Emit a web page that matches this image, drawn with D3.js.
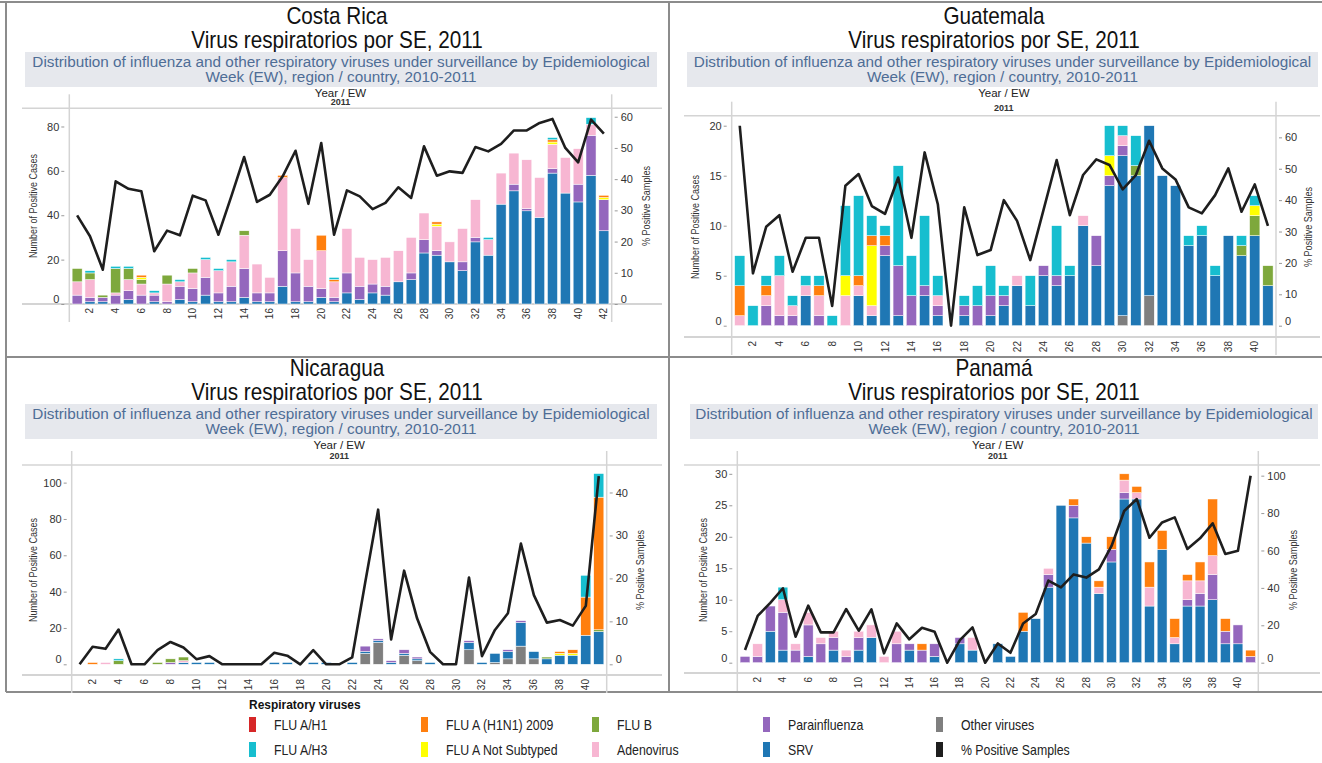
<!DOCTYPE html>
<html>
<head>
<meta charset="utf-8">
<script src="https://cdn.jsdelivr.net/npm/d3@7"></script>
<style>
  body { margin: 0; background: #fff; }
  svg { display: block; font-family: "Liberation Sans", Arial, sans-serif; }
</style>
</head>
<body>
<svg id="chart" width="1322" height="763"></svg>
<script>
// stacking order, bottom to top
const seriesKeys = ["other", "srv", "para", "adeno", "flub", "notsub", "h1n1", "h3", "h1"];
const seriesLabels = ["Other viruses", "SRV", "Parainfluenza", "Adenovirus", "FLU B",
  "FLU A Not Subtyped", "FLU A (H1N1) 2009", "FLU A/H3", "FLU A/H1"];
const seriesColors = ["#7f7f7f", "#1f77b4", "#9467bd", "#f7b6d2", "#7ea83c",
  "#ffff00", "#ff7f0e", "#17becf", "#d62728"];

// ---- Costa Rica, EW 1-42
const crSRV = [0,1,1,0,2,0,1,0,2,1, 4,1,1,3,1,1,8,1,1,3, 1,5,2,5,4,10,11,23,22,19, 15,28,22,45,51,42,39,59,50,46, 58,33];
const crPara = [4,2,2,4,4,4,3,1,6,6, 8,4,7,13,4,4,16,13,7,4, 2,9,6,4,4,0,3,6,2,0, 4,2,0,0,3,1,0,2,0,8, 18,14];
const crAdeno = [6,8,0,1,5,5,1,8,2,7, 8,10,11,15,13,7,33,20,12,17, 7,20,13,11,13,14,16,12,11,9, 15,17,7,14,14,22,18,11,16,16, 5,0];
const crFluB = [6,3,1,11,5,2,0,4,0,2, 0,0,0,2,0,0,0,0,0,0, 0,0,0,0,0,0,0,0,0,0, 0,0,0,0,0,0,0,0,0,0, 0,0];
const crNotSub = [0,0,0,0,0,1,0,0,0,0, 0,0,0,0,0,0,0,0,0,0, 0,0,0,0,0,0,0,0,1,0, 0,0,0,0,0,0,0,1,0,0, 0,1];
const crH1N1 = [0,0,0,0,0,1,0,0,0,0, 0,0,0,0,0,0,1,0,0,7, 1,0,0,0,0,0,0,0,1,0, 0,0,0,0,0,0,0,1,0,0, 0,1];
const crH3 = [0,1,0,1,1,0,1,0,1,0, 1,1,1,0,0,0,0,0,0,0, 1,0,0,0,0,0,0,0,0,0, 0,0,1,0,0,0,0,1,0,0, 3,0];
const crPct = [28.4,21.7,11.0,39.3,36.9,36.1,16.9,23.5,22.0,34.7, 33.2,22.2,34.5,47.1,32.7,35.0,40.9,49.1,32.1,51.6,
  22.2,36.4,34.5,30.4,32.4,37.4,34.0,50.5,41.1,42.5, 42.0,50.3,48.9,51.3,55.6,55.6,58.0,59.3,50.0,45.4, 59.1,54.6];

// ---- Guatemala, EW 1-41
const gtOther = [0,0,0,0,0,0,0,0,0,0, 0,0,0,0,0,0,0,0,0,0, 0,0,0,0,0,0,0,0,0,1, 0,3,0,0,0,0,0,0,0,0, 0];
const gtSRV = [0,0,0,0,0,3,0,0,0,3, 1,7,1,0,3,1,0,1,0,1, 2,4,2,5,4,5,10,6,14,16, 15,17,15,14,8,9,5,9,7,9, 4];
const gtPara = [0,0,2,1,1,0,1,0,0,0, 0,1,5,3,1,1,0,1,2,2, 1,0,0,1,1,0,0,3,1,1, 0,0,0,0,0,0,0,0,0,0, 0];
const gtAdeno = [1,0,1,4,1,1,2,0,3,1, 1,0,0,0,0,1,0,0,0,0, 0,1,0,0,0,0,1,0,0,1, 0,0,0,0,0,0,0,0,0,0, 0];
const gtFluB = [0,0,0,0,0,0,0,0,0,0, 0,0,0,0,0,0,0,0,0,0, 0,0,0,0,0,0,0,0,0,0, 1,0,0,0,0,0,0,0,1,2, 2];
const gtNotSub = [0,0,0,0,0,0,0,0,2,0, 6,0,0,0,0,0,0,0,0,0, 0,0,0,0,0,0,0,0,2,0, 0,0,0,0,0,0,0,0,0,1, 0];
const gtH1N1 = [3,0,1,0,0,0,1,0,0,1, 1,1,0,0,0,0,0,0,0,0, 0,0,0,0,0,0,0,0,0,0, 0,0,0,0,0,0,0,0,0,0, 0];
const gtH3 = [3,2,1,2,1,1,1,1,7,8, 2,1,10,4,7,2,0,1,2,3, 1,0,3,0,5,1,0,0,3,1, 3,0,0,0,1,1,1,0,1,1, 0];
const gtPct = [63.7,16.7,31.5,35.2,17.2,28.0,28.0,6.3,44.6,48.3, 38.1,35.6,47.2,28.0,55.2,38.7,0,37.7,22.5,24.1,
  40.0,33.4,20.9,36.8,52.8,35.2,48.0,53.0,51.2,43.4, 48.0,58.9,50.1,46.6,37.7,35.8,41.6,50.1,36.3,45.0, 31.8];

// ---- Nicaragua, EW 1-41
const niOther = [0,0,0,0,0,0,0,0,0,0, 0,0,0,0,0,0,0,0,0,0, 0,0,6,12,0,5,2,0,0,0, 8,0,1,3,10,3,0,0,0,0, 0];
const niSRV = [0,0,0,0,0,0,0,0,1,1, 1,0,0,0,0,1,1,0,1,1, 0,1,1,1,1,1,1,1,0,0, 4,1,5,4,13,4,3,5,5,16, 18];
const niPara = [0,0,0,0,0,0,0,1,0,0, 0,0,0,0,0,0,0,0,0,0, 0,0,3,1,1,2,1,0,0,0, 1,0,0,1,1,0,0,0,0,0, 0];
const niAdeno = [0,0,1,0,0,0,0,0,1,0, 0,0,0,0,0,0,0,0,0,0, 0,0,0,0,0,0,0,0,0,0, 0,0,0,0,0,0,0,0,0,0, 0];
const niFluB = [0,0,0,2,0,0,1,2,2,0, 0,0,0,0,0,0,0,0,0,0, 0,0,0,0,0,0,0,0,0,0, 0,0,0,0,0,0,1,0,0,0, 1];
const niNotSub = [0,0,0,0,0,0,0,0,0,0, 0,0,0,0,0,0,0,0,0,0, 0,0,0,0,0,0,0,0,0,0, 0,0,0,0,0,0,0,1,1,0, 0];
const niH1N1 = [0,1,0,0,0,0,0,0,0,0, 0,0,0,0,0,0,0,0,0,0, 0,0,0,0,0,0,0,0,0,0, 0,0,0,0,0,0,0,1,2,21, 73];
const niH3 = [0,0,0,1,0,0,0,0,0,0, 0,0,0,0,0,0,0,0,0,0, 0,0,0,0,0,0,0,0,0,0, 0,0,0,0,0,0,0,0,0,12, 13];
const niPct = [0,4.1,3.6,8.1,0,0,3.3,5.2,3.9,1.2, 1.9,0,0,0,0,2.7,2.0,0,3.3,0,
  0,1.6,19.0,36.0,5.8,21.8,10.7,2.9,0,0, 20.2,1.9,8.0,11.9,28.1,16.1,9.7,10.3,9.0,13.6, 43.8];

// ---- Panamá, EW 1-41
const paSRV = [0,0,5,2,0,1,0,2,0,2, 4,0,0,2,0,1,0,3,2,0, 3,1,5,7,12,25,23,19,11,16, 26,26,9,18,3,9,9,10,3,3, 0];
const paPara = [1,1,4,6,2,5,3,2,1,2, 0,0,3,1,2,2,0,1,0,0, 0,0,0,0,2,0,2,0,0,2, 1,0,0,0,0,1,2,4,2,3, 1];
const paAdeno = [0,2,0,2,1,2,1,1,1,1, 2,1,2,0,0,0,0,0,2,0, 0,0,0,0,1,0,0,0,1,0, 2,1,3,0,1,3,2,3,0,0, 0];
const paH1N1 = [0,0,0,0,0,0,0,0,0,0, 0,0,0,0,1,0,0,0,0,0, 0,0,3,0,0,0,1,1,1,2, 1,1,4,3,3,1,3,9,2,0, 1];
const paH3 = [0,0,0,2,0,0,0,0,0,0, 0,0,0,0,0,0,0,0,0,0, 0,0,0,0,0,0,0,0,0,0, 0,0,0,0,0,0,0,0,0,0, 0];
const paPct = [6.8,25.0,32.0,39.8,13.9,30.5,16.2,16.2,28.7,17.1, 28.5,5.0,21.0,12.5,18.7,16.6,0,12.1,18.9,0,
  10.3,5.3,21.0,26.0,43.9,40.3,47.2,45.5,49.9,62.4, 81.1,87.5,66.8,75.0,77.7,60.8,66.5,74.5,58.1,59.9, 100];

const subtitle1 = "Distribution of influenza and other respiratory viruses under surveillance by Epidemiological";
const subtitle2 = "Week (EW), region / country, 2010-2011";

// panel layout (pixels)
const panels = [
  { title: "Costa Rica", cx: 337, ty: 0, bandX: 25, bandW: 632, left: 69.3, right: 611.7, top: 108.3, zero: 304, axisY: 304,
    yearY: 102, leftMax: 88.2, rightMax: 62.7, leftTicks: [0,20,40,60,80], rightTicks: [0,10,20,30,40,50,60],
    lineL: 22, lineR: 662, leftTitleX: 33, rightTitleX: 646, titleY: 206,
    series: { srv: crSRV, para: crPara, adeno: crAdeno, flub: crFluB, notsub: crNotSub, h1n1: crH1N1, h3: crH3 }, pct: crPct },
  { title: "Guatemala", cx: 994, ty: 0, bandX: 687, bandW: 631, left: 731.7, right: 1276, top: 115.7, zero: 325.7, axisY: 337,
    yearY: 108, leftMax: 21, rightMax: 66.9, leftTicks: [0,5,10,15,20], rightTicks: [0,10,20,30,40,50,60],
    lineL: 684, lineR: 1320, leftTitleX: 695, rightTitleX: 1308, titleY: 227,
    series: { other: gtOther, srv: gtSRV, para: gtPara, adeno: gtAdeno, flub: gtFluB, notsub: gtNotSub, h1n1: gtH1N1, h3: gtH3 }, pct: gtPct },
  { title: "Nicaragua", cx: 337, ty: 352, bandX: 25, bandW: 632, left: 71.7, right: 606.7, top: 465, zero: 664.3, axisY: 675,
    yearY: 456, leftMax: 109.7, rightMax: 46.4, leftTicks: [0,20,40,60,80,100], rightTicks: [0,10,20,30,40],
    lineL: 22, lineR: 662, leftTitleX: 33, rightTitleX: 640, titleY: 570,
    series: { other: niOther, srv: niSRV, para: niPara, adeno: niAdeno, flub: niFluB, notsub: niNotSub, h1n1: niH1N1, h3: niH3 }, pct: niPct },
  { title: "Panamá", cx: 994, ty: 352, bandX: 690, bandW: 628, left: 737.3, right: 1258.3, top: 465, zero: 662.7, axisY: 673,
    yearY: 456, leftMax: 31.4, rightMax: 105.7, leftTicks: [0,5,10,15,20,25,30], rightTicks: [0,20,40,60,80,100],
    lineL: 684, lineR: 1320, leftTitleX: 703, rightTitleX: 1293, titleY: 570,
    series: { srv: paSRV, para: paPara, adeno: paAdeno, h1n1: paH1N1, h3: paH3 }, pct: paPct }
];

const svg = d3.select("#chart");
const gridColor = "#d4d4d4";

// outer frame
const frame = svg.append("g").attr("stroke", "#8c8c8c").attr("stroke-width", 2);
frame.append("line").attr("x1", 0).attr("x2", 1322).attr("y1", 2).attr("y2", 2);
frame.append("line").attr("x1", 6).attr("x2", 6).attr("y1", 2).attr("y2", 692);
frame.append("line").attr("x1", 669).attr("x2", 669).attr("y1", 2).attr("y2", 692);
frame.append("line").attr("x1", 6).attr("x2", 1322).attr("y1", 357).attr("y2", 357);
frame.append("line").attr("x1", 6).attr("x2", 1322).attr("y1", 692).attr("y2", 692);

// narrow-looking text: horizontal squeeze of Liberation Sans
function narrowText(sel, x, y, size, squeeze, anchor, txt) {
  return sel.append("text")
    .attr("transform", `translate(${x},${y}) scale(${squeeze},1)`)
    .attr("text-anchor", anchor)
    .style("font-size", size + "px")
    .text(txt);
}

panels.forEach(p => {
  const g = svg.append("g");
  const n = p.pct.length;
  const weeks = d3.range(1, n + 1);

  // titles
  narrowText(g, p.cx, p.ty + 24, 23, 0.9, "middle", p.title).attr("fill", "#111");
  narrowText(g, p.cx, p.ty + 48, 23, 0.9, "middle", "Virus respiratorios por SE, 2011").attr("fill", "#111");

  g.append("rect").attr("x", p.bandX).attr("y", p.ty + 52).attr("width", p.bandW).attr("height", 35)
    .attr("fill", "#e6e8ed");
  [subtitle1, subtitle2].forEach((t, i) => {
    g.append("text").attr("x", p.bandX + p.bandW / 2).attr("y", p.ty + 66.5 + i * 15)
      .attr("text-anchor", "middle").style("font-size", "15.3px").attr("fill", "#4e6d96").text(t);
  });

  const midX = (p.left + p.right) / 2;
  g.append("text").attr("x", midX).attr("y", p.ty + 97).attr("text-anchor", "middle")
    .style("font-size", "11.5px").attr("fill", "#222").text("Year  /  EW");
  g.append("text").attr("x", midX).attr("y", p.yearY + 3).attr("text-anchor", "middle")
    .style("font-size", "9px").style("font-weight", "bold").attr("fill", "#333").text("2011");

  // frame lines of the plot
  g.append("line").attr("x1", p.lineL).attr("x2", p.lineR).attr("y1", p.top).attr("y2", p.top)
    .attr("stroke", gridColor).attr("stroke-width", 1.5);
  g.append("line").attr("x1", p.lineL).attr("x2", p.lineR).attr("y1", p.axisY).attr("y2", p.axisY)
    .attr("stroke", gridColor).attr("stroke-width", 2);
  [p.left, p.right].forEach(x => {
    g.append("line").attr("x1", x).attr("x2", x).attr("y1", p.top - 14).attr("y2", p.axisY + 18)
      .attr("stroke", gridColor).attr("stroke-width", 1.5);
  });

  const x = d3.scaleBand().domain(weeks).range([p.left, p.right]).padding(0.22);
  const yL = d3.scaleLinear().domain([0, p.leftMax]).range([p.zero, p.top]);
  const yR = d3.scaleLinear().domain([0, p.rightMax]).range([p.zero, p.top]);

  const rows = weeks.map((w, i) => {
    const r = { week: w };
    seriesKeys.forEach(k => { r[k] = p.series[k] ? p.series[k][i] : 0; });
    return r;
  });
  const stacked = d3.stack().keys(seriesKeys)(rows);

  g.append("g").selectAll("g")
    .data(stacked)
    .join("g")
    .attr("fill", d => seriesColors[seriesKeys.indexOf(d.key)])
    .selectAll("rect")
    .data(d => d.filter(s => s[1] > s[0]))
    .join("rect")
    .attr("x", d => x(d.data.week))
    .attr("y", d => yL(d[1]))
    .attr("width", x.bandwidth())
    .attr("height", d => yL(d[0]) - yL(d[1]))
    .attr("stroke", "#fff")
    .attr("stroke-width", 0.5);

  // % positive line
  const line = d3.line()
    .x((d, i) => x(weeks[i]) + x.bandwidth() / 2)
    .y(d => yR(d));
  g.append("path").datum(p.pct).attr("d", line)
    .attr("fill", "none").attr("stroke", "#1e1e1e").attr("stroke-width", 2.6)
    .attr("stroke-linejoin", "round");

  // axes
  const leftAxis = g.append("g").attr("transform", `translate(${p.left - 5},0)`)
    .call(d3.axisLeft(yL).tickValues(p.leftTicks).tickSize(3).tickPadding(2));
  const rightAxis = g.append("g").attr("transform", `translate(${p.right + 3},0)`)
    .call(d3.axisRight(yR).tickValues(p.rightTicks).tickSize(3).tickPadding(3));
  [leftAxis, rightAxis].forEach(a => {
    a.select(".domain").remove();
    a.selectAll("line").attr("stroke", "#999");
    a.selectAll("text").style("font-size", "11px").attr("fill", "#333")
      .style("font-family", '"Liberation Sans", Arial, sans-serif');
    a.selectAll(".tick").filter(d => d === 0).select("text").attr("dy", "-0.15em");
  });

  const xAxis = g.append("g").attr("transform", `translate(0,${p.axisY})`)
    .call(d3.axisBottom(x).tickValues(weeks.filter(w => w % 2 === 0)).tickSize(0));
  xAxis.select(".domain").remove();
  xAxis.selectAll("text")
    .attr("transform", "rotate(-90)")
    .attr("x", -4).attr("y", 0).attr("dy", "0.35em")
    .style("text-anchor", "end")
    .style("font-size", "10px").attr("fill", "#333")
    .style("font-family", '"Liberation Sans", Arial, sans-serif');

  // axis titles
  g.append("text").attr("transform", `translate(${p.leftTitleX},${p.titleY}) rotate(-90)`)
    .attr("text-anchor", "middle").attr("dy", "0.35em").style("font-size", "11px").attr("fill", "#333")
    .attr("textLength", 104).attr("lengthAdjust", "spacingAndGlyphs")
    .text("Number of Positive Cases");
  g.append("text").attr("transform", `translate(${p.rightTitleX},${p.titleY}) rotate(-90)`)
    .attr("text-anchor", "middle").attr("dy", "0.35em").style("font-size", "11.5px").attr("fill", "#333")
    .attr("textLength", 80).attr("lengthAdjust", "spacingAndGlyphs")
    .text("% Positive Samples");
});

// legend
const legendItems = [
  { label: "FLU A/H1", color: "#d62728" },
  { label: "FLU A/H3", color: "#17becf" },
  { label: "FLU A (H1N1) 2009", color: "#ff7f0e" },
  { label: "FLU A Not Subtyped", color: "#ffff00" },
  { label: "FLU B", color: "#7ea83c" },
  { label: "Adenovirus", color: "#f7b6d2" },
  { label: "Parainfluenza", color: "#9467bd" },
  { label: "SRV", color: "#1f77b4" },
  { label: "Other viruses", color: "#7f7f7f" },
  { label: "% Positive Samples", color: "#1e1e1e" }
];
const legend = svg.append("g");
narrowText(legend, 249, 709, 13, 0.92, "start", "Respiratory viruses")
  .style("font-weight", "bold").attr("fill", "#111");
const legendCols = [249, 421, 592, 763, 936];
legendItems.forEach((d, i) => {
  const cx = legendCols[Math.floor(i / 2)];
  const cy = i % 2 === 0 ? 730 : 755;
  legend.append("rect").attr("x", cx).attr("y", cy - 13).attr("width", 7).attr("height", 15).attr("fill", d.color);
  narrowText(legend, cx + 25, cy, 14, 0.88, "start", d.label).attr("fill", "#222");
});
</script>
</body>
</html>
